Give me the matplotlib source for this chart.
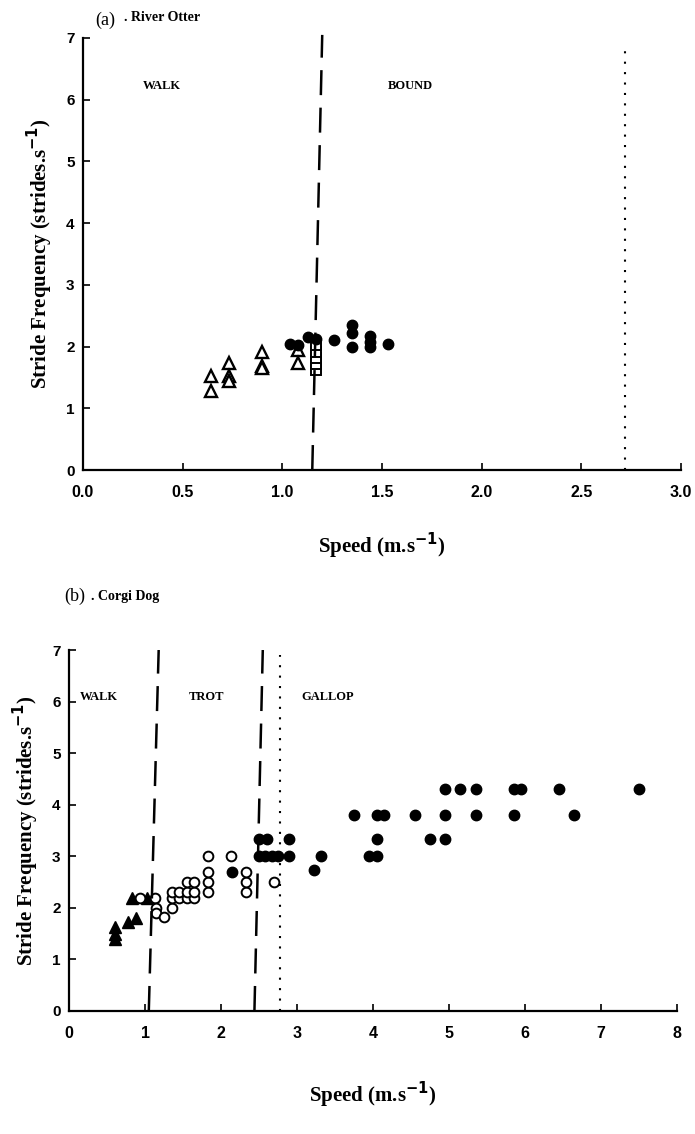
import matplotlib
matplotlib.use("Agg")
import matplotlib.pyplot as plt

# ---- (a) river otter ----
otter_walk_x = [0.64, 0.64, 0.73, 0.73, 0.73, 0.90, 0.90, 0.90, 1.08, 1.08]
otter_walk_y = [1.52, 1.28, 1.73, 1.53, 1.45, 1.92, 1.68, 1.65, 1.95, 1.73]
otter_sq_x = [1.17, 1.17, 1.17, 1.17, 1.17]
otter_sq_y = [1.62, 1.72, 1.82, 1.92, 2.02]
otter_bound_x = [1.04, 1.08, 1.13, 1.17, 1.26, 1.35, 1.35, 1.35, 1.44, 1.44, 1.44, 1.53]
otter_bound_y = [2.05, 2.03, 2.16, 2.13, 2.10, 2.35, 2.22, 2.00, 2.17, 2.07, 1.99, 2.04]
otter_dash_x = [1.15, 1.20]
otter_dash_y = [0.0, 7.05]
otter_dot_x = [2.72, 2.72]
otter_dot_y = [0.0, 6.85]

# ---- (b) corgi dog ----
corgi_walk_x = [0.60, 0.60, 0.60, 0.78, 0.88, 0.83, 1.03]
corgi_walk_y = [1.62, 1.50, 1.40, 1.72, 1.80, 2.20, 2.20]
corgi_trot_x = [0.93, 1.13, 1.15, 1.15, 1.25, 1.35,
                1.35, 1.45, 1.55, 1.65, 1.35, 1.45, 1.55, 1.65,
                1.55, 1.65, 1.83, 1.83, 1.83, 1.83, 2.13,
                2.33, 2.33, 2.33, 2.70]
corgi_trot_y = [2.20, 2.20, 2.00, 1.90, 1.82, 2.00,
                2.20, 2.20, 2.20, 2.20, 2.30, 2.30, 2.30, 2.30,
                2.50, 2.50, 2.30, 2.50, 2.70, 3.00, 3.00,
                2.30, 2.50, 2.70, 2.50]
corgi_gallop_x = [2.15, 2.50, 2.60, 2.90, 2.50, 2.58, 2.67, 2.75, 2.90, 3.32, 3.22,
                  3.75, 4.05, 4.15, 4.55, 4.95, 5.35, 5.85, 6.65,
                  4.05, 4.75, 4.95, 3.95, 4.05,
                  4.95, 5.15, 5.35, 5.85, 5.95, 6.45, 7.50]
corgi_gallop_y = [2.70, 3.33, 3.33, 3.33, 3.00, 3.00, 3.00, 3.00, 3.00, 3.00, 2.73,
                  3.80, 3.80, 3.80, 3.80, 3.80, 3.80, 3.80, 3.80,
                  3.33, 3.33, 3.33, 3.00, 3.00,
                  4.30, 4.30, 4.30, 4.30, 4.30, 4.30, 4.30]
corgi_dash1_x = [1.05, 1.18]
corgi_dash2_x = [2.44, 2.55]
corgi_dash_y = [0.0, 7.0]
corgi_dot_x = [2.77, 2.77]
corgi_dot_y = [0.0, 6.9]

serif = "Liberation Serif"
sans = "Liberation Sans"

fig = plt.figure(figsize=(6.95, 11.34), dpi=100)


def style_axes(ax, xlim, xticks, xlabels, xlabelpad):
    ax.set_xlim(*xlim)
    ax.set_ylim(0, 7)
    ax.spines["top"].set_visible(False)
    ax.spines["right"].set_visible(False)
    ax.spines["left"].set_linewidth(1.6)
    ax.spines["bottom"].set_linewidth(1.6)
    ax.set_xticks(xticks)
    ax.set_xticklabels(xlabels, fontfamily=sans, fontweight="bold", fontsize=11.5)
    ax.set_yticks(range(0, 8))
    ax.set_yticklabels([str(v) for v in range(0, 8)], fontfamily=sans,
                       fontweight="bold", fontsize=11)
    ax.tick_params(direction="in", length=5, width=1.2)
    ax.tick_params(axis="x", pad=11)
    ax.tick_params(axis="y", pad=6)
    ax.set_xlabel("Speed (m.s$^{\\mathbf{-1}}$)", fontfamily=serif,
                  fontweight="bold", fontsize=15, labelpad=xlabelpad)
    ax.set_ylabel("Stride Frequency (strides.s$^{\\mathbf{-1}}$)", fontfamily=serif,
                  fontweight="bold", fontsize=15, labelpad=8)


# panel (a)
ax1 = fig.add_axes([0.1194, 0.5855, 0.8606, 0.381])
ax1.plot(otter_walk_x, otter_walk_y, "^", mfc="white", mec="black", mew=1.7, ms=8)
ax1.plot(otter_sq_x, otter_sq_y, "s", mfc="white", mec="black", mew=1.4, ms=6.5)
ax1.plot(otter_bound_x, otter_bound_y, "o", color="black", ms=7.5)
ax1.plot(otter_dash_x, otter_dash_y, color="black", lw=1.8, dashes=(10, 5), clip_on=False)
ax1.plot(otter_dot_x, otter_dot_y, color="black", lw=1.5, ls=(0, (1, 4)))
style_axes(ax1, (0, 3.0), [0, 0.5, 1.0, 1.5, 2.0, 2.5, 3.0],
           ["0.0", "0.5", "1.0", "1.5", "2.0", "2.5", "3.0"], 22)
ax1.text(0.3, 6.22, "WALK", fontfamily=serif, fontweight="bold", fontsize=9, va="center")
ax1.text(1.53, 6.22, "BOUND", fontfamily=serif, fontweight="bold", fontsize=9, va="center")
fig.text(0.137, 0.982, "(a)", fontfamily=serif, fontsize=13, va="center")
fig.text(0.178, 0.985, ". River Otter", fontfamily=serif, fontweight="bold",
         fontsize=10, va="center")

# panel (b)
ax2 = fig.add_axes([0.0993, 0.1085, 0.8747, 0.3183])
ax2.plot(corgi_walk_x, corgi_walk_y, "^", color="black", ms=8)
ax2.plot(corgi_trot_x, corgi_trot_y, "o", mfc="white", mec="black", mew=1.4, ms=7)
ax2.plot(corgi_gallop_x, corgi_gallop_y, "o", color="black", ms=7.5)
ax2.plot(corgi_dash1_x, corgi_dash_y, color="black", lw=1.8, dashes=(10, 5))
ax2.plot(corgi_dash2_x, corgi_dash_y, color="black", lw=1.8, dashes=(10, 5))
ax2.plot(corgi_dot_x, corgi_dot_y, color="black", lw=1.5, ls=(0, (1, 4)))
style_axes(ax2, (0, 8), list(range(0, 9)), [str(v) for v in range(0, 9)], 28)
ax2.text(0.14, 6.08, "WALK", fontfamily=serif, fontweight="bold", fontsize=9, va="center")
ax2.text(1.57, 6.08, "TROT", fontfamily=serif, fontweight="bold", fontsize=9, va="center")
ax2.text(3.06, 6.08, "GALLOP", fontfamily=serif, fontweight="bold", fontsize=9, va="center")
fig.text(0.092, 0.474, "(b)", fontfamily=serif, fontsize=13, va="center")
fig.text(0.131, 0.474, ". Corgi Dog", fontfamily=serif, fontweight="bold",
         fontsize=10, va="center")

fig.savefig("out.png", dpi=100, facecolor="white")
